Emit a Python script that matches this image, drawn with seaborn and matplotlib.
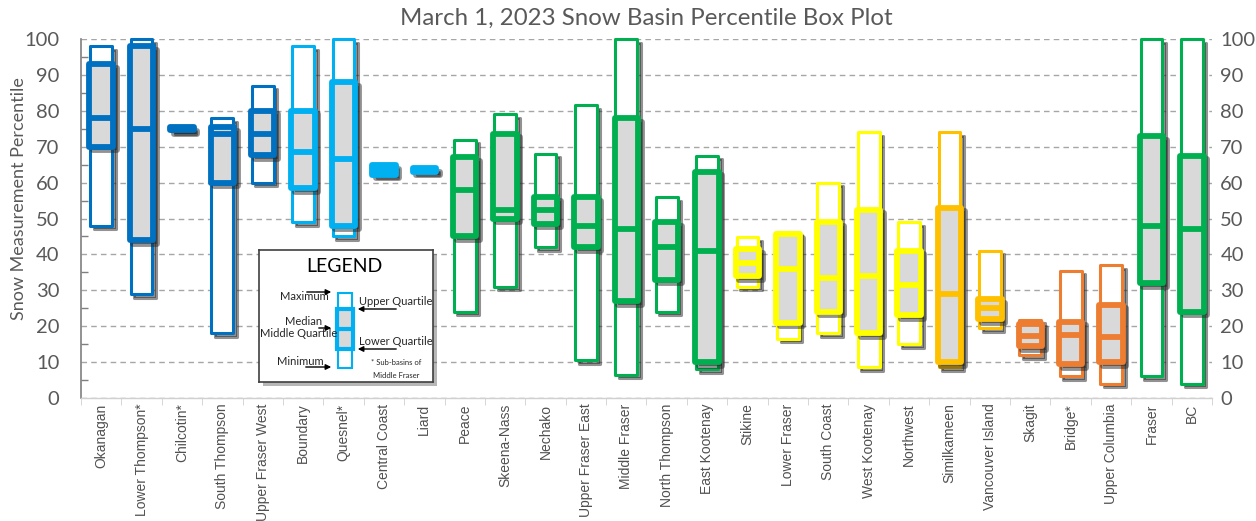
import numpy as np
import pandas as pd
import matplotlib
matplotlib.use("Agg")
import matplotlib.pyplot as plt
import matplotlib.patheffects as pe
import matplotlib.transforms as mtransforms
from matplotlib.patches import Rectangle
from matplotlib.ticker import MultipleLocator, FixedLocator
import seaborn as sns

# ---------------- data (percentiles) ----------------
basins = ["Okanagan", "Lower Thompson*", "Chilcotin*", "South Thompson", "Upper Fraser West",
          "Boundary", "Quesnel*", "Central Coast", "Liard", "Peace", "Skeena-Nass", "Nechako",
          "Upper Fraser East", "Middle Fraser", "North Thompson", "East Kootenay", "Stikine",
          "Lower Fraser", "South Coast", "West Kootenay", "Northwest", "Similkameen",
          "Vancouver Island", "Skagit", "Bridge*", "Upper Columbia", "Fraser", "BC"]

p_min = [48, 29, 74.5, 18, 60, 49, 45, 62.2, 63.0, 24, 31, 42, 10.5, 6.5, 24, 8, 31,
         16.5, 18, 8.5, 15, 8.5, 19.5, 12, 6, 4, 6, 4]
p_q1 = [70, 44, 74.6, 60, 67.6, 58.5, 48, 62.2, 63.0, 45, 50, 48.5, 42, 27, 33, 10, 34,
        21, 24, 18, 23, 10, 22, 14.4, 9.5, 10, 32, 24]
p_med = [78, 75, 75, 73.5, 73.6, 68.4, 66.5, 63.5, 63.5, 58, 52.5, 52.3, 48, 47, 42, 41, 37.6,
         35.8, 33.5, 34, 31.5, 29, 25, 17.2, 17.5, 17, 48, 47]
p_q3 = [93, 98, 75.4, 75.5, 80, 80, 88, 64.8, 64.0, 67, 73.6, 56, 56, 78, 49, 63, 41.5,
        45.7, 49, 52.5, 41, 53, 27.5, 20.6, 21.3, 26, 73, 67.5]
p_max = [98, 100, 75.5, 78, 87, 98, 100, 64.8, 64.0, 72, 79, 68, 81.5, 100, 56, 67.5, 44.8,
         46.3, 60, 74, 49, 74, 41, 21.8, 35.5, 37, 100, 100]

region_colors = (["#0070C0"] * 5 + ["#00B0F0"] * 4 + ["#00B050"] * 7 + ["#FFFF00"] * 5
                 + ["#FFC000"] * 2 + ["#ED7D31"] * 3 + ["#00B050"] * 2)

# long tables: 5 points per basin give exact quartiles in a box plot
rows_inner, rows_outer = [], []
for b, lo, q1, md, q3, hi in zip(basins, p_min, p_q1, p_med, p_q3, p_max):
    for v in (lo, q1, md, q3, hi):
        rows_inner.append({"basin": b, "value": v})
    for v in (lo, lo, md, hi, hi):
        rows_outer.append({"basin": b, "value": v})
df_inner = pd.DataFrame(rows_inner)
df_outer = pd.DataFrame(rows_outer)
pal = dict(zip(basins, region_colors))

# ---------------- style ----------------
sns.set_style("white")
plt.rcParams["font.family"] = ["Lato", "DejaVu Sans"]
txt_gray = "#595959"
box_gray = "#D9D9D9"

fig = plt.figure(figsize=(12.56, 5.21), dpi=100)
W, H = 1256, 521
ax = fig.add_axes([81 / W, 1 - 398 / H, (1212 - 81) / W, (398 - 39) / H])

shadow = [pe.SimpleLineShadow(offset=(2.6, -2.6), shadow_color="0.15", alpha=0.5),
          pe.SimplePatchShadow(offset=(2.6, -2.6), shadow_rgbFace="0.15", alpha=0.5),
          pe.Normal()]

# outer (min..max) boxes
n0 = len(ax.patches)
sns.boxplot(data=df_outer, x="basin", y="value", hue="basin", palette=pal, order=basins,
            hue_order=basins, width=0.54, whis=(0, 100), showcaps=False, showfliers=False,
            saturation=1, legend=False, linewidth=2.2, ax=ax,
            medianprops=dict(linewidth=0), whiskerprops=dict(linewidth=0))
for p in ax.patches[n0:]:
    col = p.get_facecolor()
    p.set_facecolor("white")
    p.set_edgecolor(col)
    p.set_linewidth(2.2)
    p.set_joinstyle("round")
    p.set_clip_on(False)
    p.set_path_effects(shadow)

# inner (quartile) boxes
n1 = len(ax.patches)
l1 = len(ax.lines)
sns.boxplot(data=df_inner, x="basin", y="value", hue="basin", palette=pal, order=basins,
            hue_order=basins, width=0.58, whis=(0, 100), showcaps=False, showfliers=False,
            saturation=1, legend=False, linewidth=4.2, ax=ax,
            medianprops=dict(linewidth=4.2, solid_capstyle="butt"),
            whiskerprops=dict(linewidth=0))
for p in ax.patches[n1:]:
    col = p.get_facecolor()
    p.set_facecolor(box_gray)
    p.set_edgecolor(col)
    p.set_linewidth(4.2)
    p.set_joinstyle("round")
    p.set_clip_on(False)
    p.set_path_effects(shadow)
for ln in ax.lines[l1:]:
    xd = np.asarray(ln.get_xdata(), dtype=float)
    yd = np.asarray(ln.get_ydata(), dtype=float)
    if len(xd) == 2 and yd[0] == yd[1] and xd[0] != xd[1]:
        idx = int(round(xd.mean()))
        ln.set_color(region_colors[idx])
        ln.set_linewidth(4.2)

# ---------------- axes ----------------
ax.set_ylim(0, 100)
ax.set_xlim(-0.5, len(basins) - 0.5)
ax.set_xlabel("")
ax.set_ylabel("")
ax.set_axisbelow(True)
ax.yaxis.set_major_locator(MultipleLocator(10))
ax.yaxis.set_minor_locator(MultipleLocator(5))
ax.grid(axis="y", which="major", linestyle=(0, (4, 3)), color="#A6A6A6", linewidth=1.0)
ax.grid(axis="x", visible=False)

for s in ["top", "right"]:
    ax.spines[s].set_visible(False)
ax.spines["left"].set_color("#7F7F7F")
ax.spines["left"].set_linewidth(1.2)
ax.spines["bottom"].set_color("#D0D0D0")
ax.spines["bottom"].set_linewidth(1.0)

ax.tick_params(axis="y", which="major", left=False, right=False, labelleft=True,
               labelright=True, labelsize=14.5, labelcolor=txt_gray, pad=12)
ax.tick_params(axis="y", which="minor", left=True, direction="in", length=5,
               color="#7F7F7F", width=1)

ax.set_xticks(range(len(basins)))
ax.set_xticklabels(basins, rotation=90, family=["Liberation Sans", "DejaVu Sans"],
                   fontsize=10, color="#505050")
ax.tick_params(axis="x", which="major", length=0, pad=4)
ax.xaxis.set_minor_locator(FixedLocator(np.arange(-0.5, len(basins), 1.0)))
ax.tick_params(axis="x", which="minor", bottom=True, length=5, color="#D0D0D0", direction="out")

# right tick labels sit closer to the plot than the left ones
off = mtransforms.ScaledTranslation(-9.5 / 72, 0, fig.dpi_scale_trans)
for t in ax.yaxis.get_major_ticks():
    t.label2.set_transform(t.label2.get_transform() + off)

fig.text(646 / W, 1 - 18 / H, "March 1, 2023 Snow Basin Percentile Box Plot",
         ha="center", va="center", fontsize=17.3, color=txt_gray)
fig.text(19 / W, 1 - 199 / H, "Snow Measurement Percentile", rotation=90,
         ha="center", va="center", fontsize=13, color=txt_gray)

# ---------------- legend panel ----------------
lg = fig.add_axes([259 / W, 1 - 382 / H, (433 - 259) / W, (382 - 250) / H])
lg.set_xlim(259, 433)
lg.set_ylim(382, 250)
lg.set_xticks([])
lg.set_yticks([])
for s in lg.spines.values():
    s.set_color("#404040")
    s.set_linewidth(1.2)
lg.patch.set_path_effects([pe.SimplePatchShadow(offset=(3, -3), shadow_rgbFace="0.3", alpha=0.4),
                           pe.Normal()])
lg.text(344, 267, "LEGEND", ha="center", va="center", fontsize=14, color="black")
leg_col = "#00B0F0"
lg.add_patch(Rectangle((337.5, 293), 14, 75, facecolor="white", edgecolor=leg_col, lw=1.5))
lg.add_patch(Rectangle((336.5, 309.5), 16, 39.5, facecolor=box_gray, edgecolor=leg_col, lw=3))
lg.plot([336.5, 352.5], [329, 329], color=leg_col, lw=3, solid_capstyle="butt")
fs = 8
lg.text(304, 297, "Maximum", ha="center", va="center", fontsize=fs)
lg.text(359, 302, "Upper Quartile", ha="left", va="center", fontsize=fs)
lg.text(304, 322, "Median", ha="center", va="center", fontsize=fs)
lg.text(299, 334, "Middle Quartile", ha="center", va="center", fontsize=fs)
lg.text(359, 342, "Lower Quartile", ha="left", va="center", fontsize=fs)
lg.text(300, 362, "Minimum", ha="center", va="center", fontsize=fs)
lg.text(396, 363, "* Sub-basins of", ha="center", va="center", fontsize=5.5)
lg.text(396, 376, "Middle Fraser", ha="center", va="center", fontsize=5.5)
arw = dict(arrowstyle="-|>", color="black", lw=1, mutation_scale=8)
lg.annotate("", xy=(334, 292), xytext=(304, 292), arrowprops=arw)
lg.annotate("", xy=(355, 309), xytext=(399, 309), arrowprops=arw)
lg.annotate("", xy=(334, 328), xytext=(316, 328), arrowprops=arw)
lg.annotate("", xy=(355, 349), xytext=(399, 349), arrowprops=arw)
lg.annotate("", xy=(334, 367), xytext=(303, 367), arrowprops=arw)

fig.savefig("out.png", dpi=100)
